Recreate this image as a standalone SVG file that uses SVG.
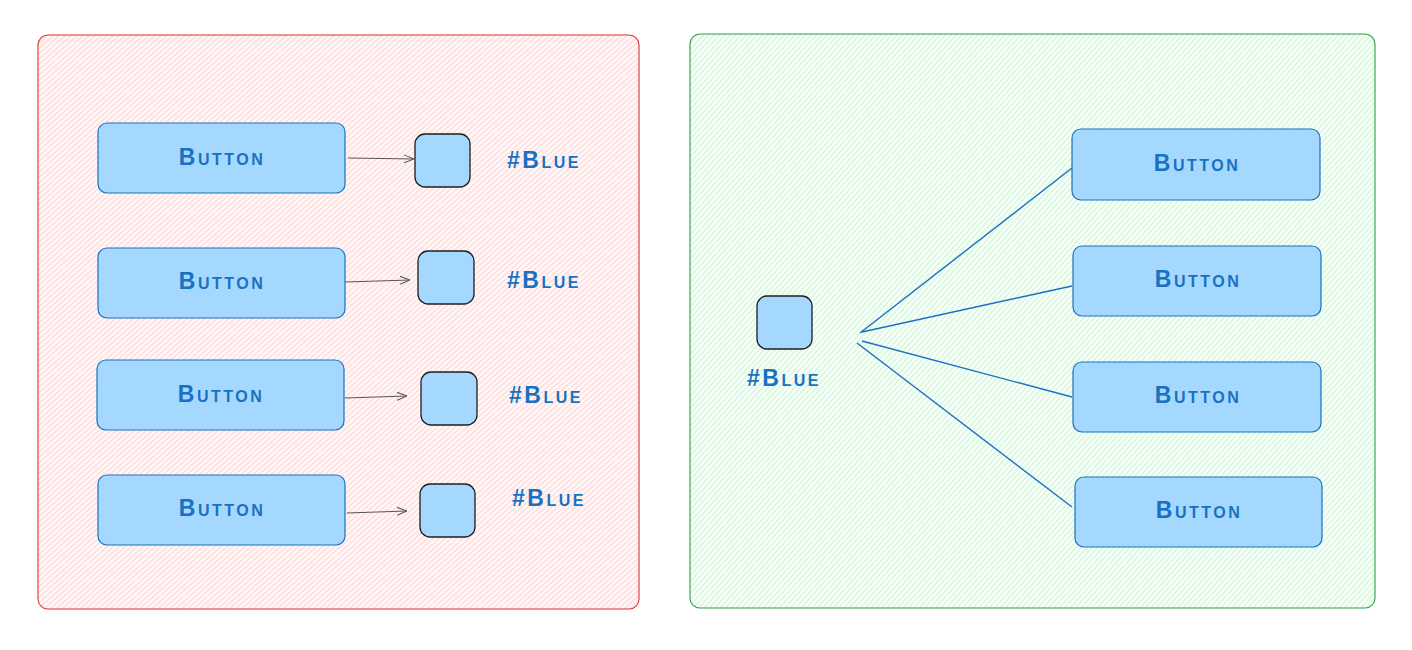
<svg xmlns="http://www.w3.org/2000/svg" width="1412" height="650" viewBox="0 0 1412 650">
<defs>
<pattern id="hRed" width="4" height="4" patternUnits="userSpaceOnUse" patternTransform="rotate(-42)">
<line x1="0" y1="2" x2="4" y2="2" stroke="#ffbcbc" stroke-width="0.8"/>
</pattern>
<pattern id="hGreen" width="4" height="4" patternUnits="userSpaceOnUse" patternTransform="rotate(-48)">
<line x1="0" y1="2" x2="4" y2="2" stroke="#b0eebb" stroke-width="0.8"/>
</pattern>
<marker id="arr" viewBox="0 0 10 10" refX="10" refY="5" markerWidth="10" markerHeight="10" markerUnits="userSpaceOnUse" orient="auto">
<path d="M0,1 L10,5 L0,9" fill="none" stroke="#555" stroke-width="1"/>
</marker>
<style>
.btn{fill:#a5d8ff;stroke:#1971c2;stroke-width:1.2}
.sq{fill:#a5d8ff;stroke:#1e1e1e;stroke-width:1.3}
.lbl{font-family:"Liberation Sans",sans-serif;font-variant:small-caps;fill:#1971c2;font-size:23px;letter-spacing:2.5px;font-weight:bold}
.bt{text-anchor:middle}
.arrow{stroke:#444;stroke-width:0.9;fill:none}
.link{stroke:#1971c2;stroke-width:1.4;fill:none}
</style>
</defs>
<g id="panel-left">
<rect x="38" y="35" width="601" height="574" rx="10" fill="#fffafa"/>
<rect x="38" y="35" width="601" height="574" rx="10" fill="url(#hRed)" stroke="#e03131" stroke-width="1.1"/>
</g>
<g id="panel-right">
<rect x="690" y="34" width="685" height="574" rx="10" fill="#fafffb"/>
<rect x="690" y="34" width="685" height="574" rx="10" fill="url(#hGreen)" stroke="#2f9e44" stroke-width="1.1"/>
</g>
<g id="connectors">
<line class="arrow" x1="348" y1="158" x2="414" y2="159" marker-end="url(#arr)"/>
<line class="arrow" x1="345" y1="282" x2="410" y2="280" marker-end="url(#arr)"/>
<line class="arrow" x1="345" y1="398" x2="407" y2="396" marker-end="url(#arr)"/>
<line class="arrow" x1="347" y1="513" x2="407" y2="511" marker-end="url(#arr)"/>
<line class="link" x1="860" y1="333" x2="1072" y2="168"/>
<line class="link" x1="862" y1="332" x2="1072" y2="286"/>
<line class="link" x1="862" y1="341" x2="1072" y2="397"/>
<line class="link" x1="857" y1="343" x2="1072" y2="507"/>
</g>
<g id="btn-l1"><rect class="btn" x="98" y="123" width="247" height="70" rx="9"/><text class="lbl bt" x="222" y="165">Button</text></g>
<g id="btn-l2"><rect class="btn" x="98" y="248" width="247" height="70" rx="9"/><text class="lbl bt" x="222" y="289">Button</text></g>
<g id="btn-l3"><rect class="btn" x="97" y="360" width="247" height="70" rx="9"/><text class="lbl bt" x="221" y="402">Button</text></g>
<g id="btn-l4"><rect class="btn" x="98" y="475" width="247" height="70" rx="9"/><text class="lbl bt" x="222" y="516">Button</text></g>
<g id="sq-l1"><rect class="sq" x="415" y="134" width="55" height="53" rx="10"/></g>
<g id="sq-l2"><rect class="sq" x="418" y="251" width="56" height="53" rx="10"/></g>
<g id="sq-l3"><rect class="sq" x="421" y="372" width="56" height="53" rx="10"/></g>
<g id="sq-l4"><rect class="sq" x="420" y="484" width="55" height="53" rx="10"/></g>
<g id="lbl-l1"><text class="lbl" x="507" y="168">#Blue</text></g>
<g id="lbl-l2"><text class="lbl" x="507" y="288">#Blue</text></g>
<g id="lbl-l3"><text class="lbl" x="509" y="403">#Blue</text></g>
<g id="lbl-l4"><text class="lbl" x="512" y="506">#Blue</text></g>
<g id="sq-r"><rect class="sq" x="757" y="296" width="55" height="53" rx="10"/></g>
<g id="lbl-r"><text class="lbl" x="747" y="386">#Blue</text></g>
<g id="btn-r1"><rect class="btn" x="1072" y="129" width="248" height="71" rx="9"/><text class="lbl bt" x="1197" y="171">Button</text></g>
<g id="btn-r2"><rect class="btn" x="1073" y="246" width="248" height="70" rx="9"/><text class="lbl bt" x="1198" y="287">Button</text></g>
<g id="btn-r3"><rect class="btn" x="1073" y="362" width="248" height="70" rx="9"/><text class="lbl bt" x="1198" y="403">Button</text></g>
<g id="btn-r4"><rect class="btn" x="1075" y="477" width="247" height="70" rx="9"/><text class="lbl bt" x="1199" y="518">Button</text></g>
</svg>
